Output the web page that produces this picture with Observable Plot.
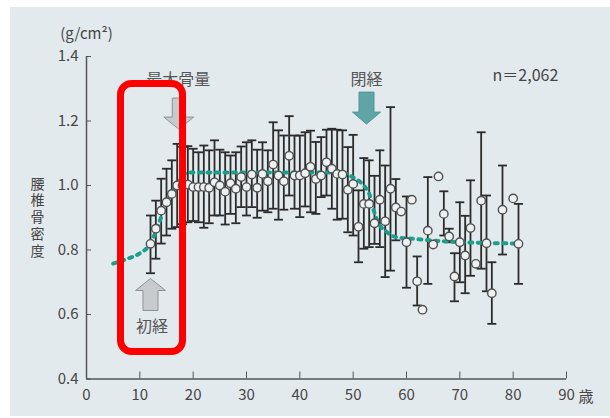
<!DOCTYPE html>
<html><head><meta charset="utf-8">
<script src="https://cdn.jsdelivr.net/npm/d3@7"></script>
<script src="https://cdn.jsdelivr.net/npm/@observablehq/plot@0.6"></script>
<style>
body{margin:0;background:#fff;width:610px;height:418px;overflow:hidden;position:relative}
#wrap{position:absolute;left:10px;top:7px;width:600px;height:409px;background:#e3eaed}
</style></head><body><div id="wrap"></div>
<script>
// ---- data ----
const ages   = [12,13,14,15,16,17,18,19,20,21,22,23,24,25,26,27,28,29,30,31,32,33,34,35,36,37,38,39,40,41,42,43,44,45,46,47,48,49,50,51,52,53,54,55,56,57,58,59,60,61,62,63,64,65,66,67,68,69,70,71,72,73,74,75,76,78,80,81];
const means  = [0.819,0.866,0.922,0.948,0.974,1.000,1.000,1.003,0.995,0.995,0.995,0.993,1.010,1.000,0.981,1.007,0.990,1.026,0.995,1.034,0.993,1.036,1.013,1.065,1.031,1.013,1.092,1.031,1.031,1.038,1.058,1.020,1.031,1.072,1.052,1.036,1.034,0.987,1.005,0.872,0.943,0.943,0.883,0.956,0.889,0.990,0.932,0.919,0.824,0.956,0.703,0.615,0.860,0.817,1.028,0.912,0.842,0.718,0.824,0.783,0.868,0.757,0.953,0.821,0.666,0.925,0.960,0.819];
const uppers = [0.907,0.953,1.021,1.052,1.078,1.129,1.120,1.122,1.114,1.103,1.124,1.109,1.140,1.111,1.103,1.093,1.103,1.121,1.134,1.140,1.111,1.134,1.109,1.196,1.171,1.155,1.215,1.155,1.155,1.165,1.170,1.135,1.150,1.173,1.176,1.173,1.171,1.119,1.157,0.985,1.085,1.078,1.030,1.109,1.062,1.243,1.020,null,0.966,null,0.780,null,1.026,null,null,0.982,0.866,0.790,0.948,0.906,1.016,null,1.165,0.969,0.762,1.062,null,0.943];
const lowers = [0.728,0.773,0.820,0.845,0.866,0.871,0.880,0.886,0.890,0.886,0.869,0.883,0.907,0.907,0.879,0.912,0.883,0.933,0.907,0.933,0.900,0.922,0.917,0.928,0.894,0.925,0.969,0.928,0.902,0.935,0.917,0.912,0.964,0.969,0.928,0.894,0.897,0.855,0.845,0.762,0.804,0.809,0.819,0.809,0.716,0.736,0.830,null,0.683,null,0.628,null,0.695,null,null,0.845,0.824,0.641,0.700,0.666,0.720,null,0.742,0.672,0.571,0.786,null,0.695];

const curveAges   = [5,7.5,10,12,13.3,14.4,15.7,17,18,19,30,40,48,50,51,52,53,54,55,56,58,61,67,81];
const curveValues = [0.758,0.772,0.79,0.82,0.87,0.92,0.97,1.0,1.03,1.04,1.04,1.04,1.04,1.025,1.015,1.0,0.975,0.915,0.876,0.86,0.84,0.835,0.827,0.82];

const xTicks = [0,10,20,30,40,50,60,70,80,90];
const yTicks = [0.4,0.6,0.8,1.0,1.2,1.4];
const yLabelChars = ["腰","椎","骨","密","度"];

const arrowLabels = ["最大骨量","閉経","初経"];
const arrowAges   = [17.3,52.5,12.0];
const arrowValues = [1.223,1.24,0.662];
const arrowDirs   = ["down","down","up"];
const labelValues = [1.326,1.326,0.563];
const labelAges   = [17.2,52.5,12.3];

const highlight = {x1: 6.47, x2: 18.1, y1: 0.484, y2: 1.315};

// ---- build ----
const points = ages.map((a,i)=>({age:a, mean:means[i], hi:uppers[i], lo:lowers[i]}));
const bars = points.filter(d=>d.hi!=null);
const caps = bars.flatMap(d=>[{age:d.age,v:d.hi},{age:d.age,v:d.lo}]);
const curve = curveAges.map((a,i)=>({age:a, v:curveValues[i]}));
const arrows = arrowLabels.map((l,i)=>({label:l, age:arrowAges[i], v:arrowValues[i], dir:arrowDirs[i], lage:labelAges[i], lv:labelValues[i]}));

const capSym = {draw(ctx){ctx.moveTo(-4.5,0);ctx.lineTo(4.5,0);}};
function arrowSym(dir, sw, hw, sh, hh){
  const s = dir==="down"?1:-1, T=sh+hh, t=-T/2;
  const pts=[[-sw/2,t],[sw/2,t],[sw/2,t+sh],[hw/2,t+sh],[0,T/2],[-hw/2,t+sh],[-sw/2,t+sh]];
  return {draw(ctx){pts.forEach(([x,y],i)=> i?ctx.lineTo(x,s*y):ctx.moveTo(x,s*y)); ctx.closePath();}};
}
const grayDown = arrowSym("down",13,30,19,12);
const grayUp = arrowSym("up",15,30,20,12);
const tealDown = arrowSym("down",15,28,20,12);

const font = "'Noto Sans CJK JP', 'Noto Sans', sans-serif";

const chart = Plot.plot({
  width: 600, height: 409,
  marginLeft: 76, marginRight: 44, marginTop: 49, marginBottom: 37.5,
  style: {background:"transparent", fontFamily: font, fontSize:"15px", color:"#454545"},
  x: {domain:[0,90]},
  y: {domain:[0.4,1.4]},
  marks: [
    Plot.axisX({ticks:xTicks, tickSize:-7, tickPadding:17, stroke:"#555", label:null, fontSize:15}),
    Plot.axisY({ticks:yTicks, tickSize:-5, tickPadding:13, tickFormat:d3.format(".1f"), stroke:"#555", label:null, fontSize:15}),
    Plot.ruleY([0.4], {stroke:"#555", strokeWidth:1.5}),
    Plot.ruleX([0], {stroke:"#555", strokeWidth:1.5}),
    Plot.ruleX(bars, {x:"age", y1:"lo", y2:"hi", stroke:"#2b2b2b", strokeWidth:1.8}),
    Plot.dot(caps, {x:"age", y:"v", symbol:capSym, stroke:"#2b2b2b", strokeWidth:1.8, r:5}),
    Plot.line(curve, {x:"age", y:"v", curve:"monotone-x", stroke:"#1d9d8c", strokeWidth:4, strokeDasharray:"3,5.5"}),
    Plot.dot(points, {x:"age", y:"mean", r:4.2, fill:"#eef1f2", stroke:"#505050", strokeWidth:1.4}),
    Plot.dot(arrows.filter(d=>d.label==="最大骨量"), {x:"age", y:"v", symbol:grayDown, fill:"#c8cbce", stroke:"#8e9295", strokeWidth:1, r:10}),
    Plot.dot(arrows.filter(d=>d.label==="初経"), {x:"age", y:"v", symbol:grayUp, fill:"#c8cbce", stroke:"#8e9295", strokeWidth:1, r:10}),
    Plot.dot(arrows.filter(d=>d.label==="閉経"), {x:"age", y:"v", symbol:tealDown, fill:"#5fa5a6", stroke:"#4f9697", strokeWidth:1, r:10}),
    Plot.text(arrows, {x:"lage", y:"lv", text:"label", fontSize:16, fill:"#555"}),
    Plot.text(["n＝2,062"], {x:82.3, y:1.341, fontSize:16, fill:"#444"}),
    Plot.rect([highlight], {x1:"x1", x2:"x2", y1:"y1", y2:"y2", stroke:"#ff0000", strokeWidth:7, fill:"none", rx:11}),
    Plot.text(["(g/cm²)"], {frameAnchor:"top-left", lineAnchor:"middle", dy:-22, textAnchor:"middle", fontSize:15, fill:"#454545"}),
    ...yLabelChars.map((c,i)=>Plot.text([c], {frameAnchor:"left", lineAnchor:"middle", dx:-49, dy:(i-2)*16.8, textAnchor:"middle", fontSize:14, fill:"#454545"})),
    Plot.text(["歳"], {frameAnchor:"bottom-right", lineAnchor:"middle", dx:27, dy:18, fontSize:15, fill:"#454545"})
  ]
});
document.getElementById("wrap").appendChild(chart);
</script>
</body></html>
